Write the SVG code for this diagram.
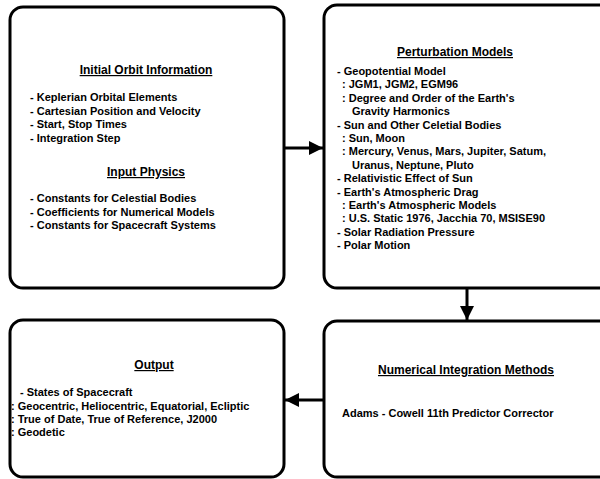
<svg xmlns="http://www.w3.org/2000/svg" width="600" height="479" viewBox="0 0 600 479">
<style>
.box{fill:#fff;stroke:#000;stroke-width:3}
text{font-family:"Liberation Sans",Arial,sans-serif;font-weight:bold;font-size:11px;fill:#000}
.t{text-anchor:middle;text-decoration:underline;font-size:12px}
.c{stroke:#000;stroke-width:3;fill:none}
</style>
<defs>
<marker id="ah" markerUnits="userSpaceOnUse" markerWidth="16" markerHeight="16" refX="14" refY="7" orient="auto">
<path d="M0,0 L14,7 L0,14 Z" fill="#000"/>
</marker>
</defs>
<rect width="600" height="479" fill="#fff"/>
<g id="connectors">
<line class="c" x1="285" y1="148" x2="323" y2="148" marker-end="url(#ah)"/>
<line class="c" x1="467" y1="289" x2="467" y2="320" marker-end="url(#ah)"/>
<line class="c" x1="323" y1="400" x2="285" y2="400" marker-end="url(#ah)"/>
</g>
<g id="initial">
<rect class="box" x="10" y="7" width="274" height="281" rx="13"/>
<text class="t" x="146" y="74">Initial Orbit Information</text>
<text x="30" y="101">- Keplerian Orbital Elements</text>
<text x="30" y="114.5">- Cartesian Position and Velocity</text>
<text x="30" y="128">- Start, Stop Times</text>
<text x="30" y="141.5">- Integration Step</text>
<text class="t" x="146" y="176">Input Physics</text>
<text x="30" y="202">- Constants for Celestial Bodies</text>
<text x="30" y="215.5">- Coefficients for Numerical Models</text>
<text x="30" y="229">- Constants for Spacecraft Systems</text>
</g>
<g id="perturbation">
<rect class="box" x="324" y="5" width="300" height="283" rx="13"/>
<text class="t" x="455" y="56">Perturbation Models</text>
<text x="337" y="75">- Geopotential Model</text>
<text x="342" y="88.4">: JGM1, JGM2, EGM96</text>
<text x="342" y="101.8">: Degree and Order of the Earth's</text>
<text x="352" y="115.2">Gravity Harmonics</text>
<text x="337" y="128.6">- Sun and Other Celetial Bodies</text>
<text x="342" y="142">: Sun, Moon</text>
<text x="342" y="155.4">: Mercury, Venus, Mars, Jupiter, Satum,</text>
<text x="352" y="168.8">Uranus, Neptune, Pluto</text>
<text x="337" y="182.2">- Relativistic Effect of Sun</text>
<text x="337" y="195.6">- Earth's Atmospheric Drag</text>
<text x="342" y="209">: Earth's Atmospheric Models</text>
<text x="342" y="222.4">: U.S. Static 1976, Jacchia 70, MSISE90</text>
<text x="337" y="235.8">- Solar Radiation Pressure</text>
<text x="337" y="249.2">- Polar Motion</text>
</g>
<g id="output">
<rect class="box" x="10" y="320" width="274" height="157" rx="13"/>
<text class="t" x="154" y="369">Output</text>
<text x="20" y="396">- States of Spacecraft</text>
<text x="11" y="410">: Geocentric, Heliocentric, Equatorial, Ecliptic</text>
<text x="11" y="423">: True of Date, True of Reference, J2000</text>
<text x="11" y="436">: Geodetic</text>
</g>
<g id="integration">
<rect class="box" x="324" y="321" width="300" height="156" rx="13"/>
<text class="t" x="466" y="374">Numerical Integration Methods</text>
<text x="342" y="417">Adams - Cowell 11th Predictor Corrector</text>
</g>
</svg>
